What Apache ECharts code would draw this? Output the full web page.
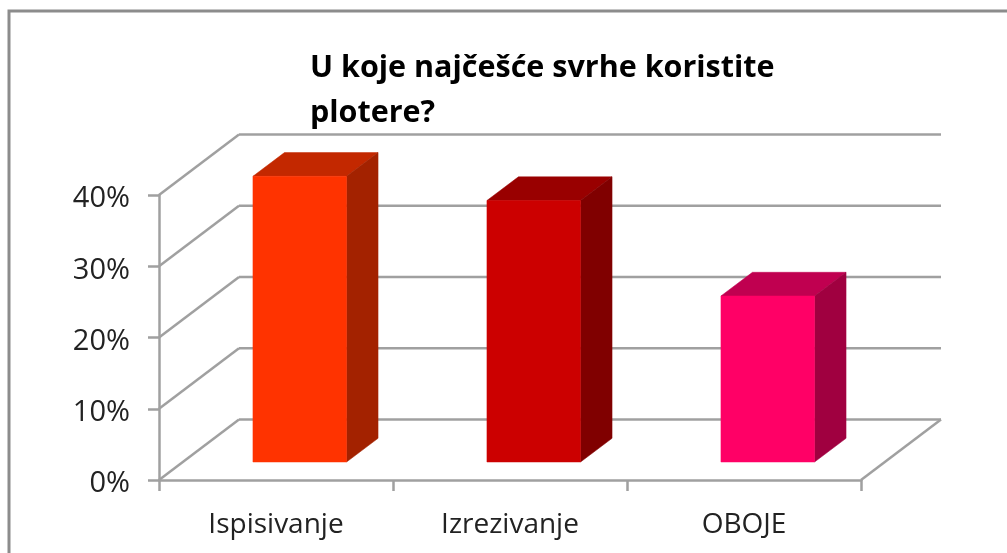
<!DOCTYPE html>
<html>
<head>
<meta charset="utf-8">
<style>html,body{margin:0;padding:0;background:#fff}#c{width:1007px;height:553px}</style>
<script src="https://cdn.jsdelivr.net/npm/echarts@6/dist/echarts.min.js"></script>
</head>
<body>
<div id="c"></div>
<script>
const categories = ['Ispisivanje', 'Izrezivanje', 'OBOJE'];
const values = [40.1, 36.7, 23.3];
const yTicks = [0, 10, 20, 30, 40];
const frontColors = ['#FF3300', '#CC0000', '#FF0066'];
const topColors = ['#C32800', '#990000', '#C00050'];
const sideColors = ['#A32200', '#800000', '#A00040'];
const titleText = 'U koje najčešće svrhe koristite\nplotere?';

const WALL_DX = 80, WALL_DY = -60.5, BAR_DX = 31.5, BAR_DY = -23.7;
const BASE_DX = 23.75, BASE_DY = -18;
const LINE = '#A0A0A0';
const lineStyle = { stroke: LINE, lineWidth: 2.5, fill: null };

const chart = echarts.init(document.getElementById('c'), null, { renderer: 'canvas' });
chart.setOption({
  animation: false,
  backgroundColor: '#fff',
  textStyle: { fontFamily: 'Open Sans' },
  title: {
    text: titleText, left: 305, top: 41,
    textStyle: { fontFamily: 'Open Sans', fontWeight: 'bold', fontSize: 30.5, lineHeight: 45, color: '#000' }
  },
  grid: { left: 159, right: 146, top: 195, bottom: 73, containLabel: false },
  xAxis: {
    type: 'category', data: categories,
    axisLine: { lineStyle: { color: LINE, width: 2.5 } },
    axisTick: { show: true, length: 11, lineStyle: { color: LINE, width: 2.5 } },
    axisLabel: { fontSize: 28, color: '#222', margin: 31, fontFamily: 'Open Sans' }
  },
  yAxis: {
    type: 'value', min: 0, max: 40, interval: 10,
    axisLine: { show: true, lineStyle: { color: LINE, width: 2.5 } },
    axisTick: { show: true, length: 11, lineStyle: { color: LINE, width: 2.5 } },
    splitLine: { show: false },
    axisLabel: { formatter: '{value}%', fontSize: 29, color: '#222', margin: 29, verticalAlign: 'top', lineHeight: 8, fontFamily: 'Open Sans' }
  },
  series: [
    {
      type: 'custom', coordinateSystem: 'cartesian2d', silent: true, z: 1,
      data: yTicks.map(v => [0, v]),
      renderItem(params, api) {
        const v = api.value(1);
        const size = api.size([1, 0]);
        const p = api.coord([0, v]);
        const x0 = p[0] - size[0] / 2, y0 = p[1];
        const xEnd = x0 + size[0] * categories.length;
        const bx = x0 + WALL_DX, by = y0 + WALL_DY, bxEnd = xEnd + WALL_DX;
        const children = [
          { type: 'line', shape: { x1: x0, y1: y0, x2: bx, y2: by }, style: lineStyle },
          { type: 'line', shape: { x1: bx, y1: by, x2: bxEnd, y2: by }, style: lineStyle }
        ];
        if (v === 0) children.push({ type: 'line', shape: { x1: xEnd, y1: y0, x2: bxEnd, y2: by }, style: lineStyle });
        return { type: 'group', children };
      }
    },
    {
      type: 'custom', coordinateSystem: 'cartesian2d', silent: true, z: 3,
      data: values.map((v, i) => [i, v]),
      renderItem(params, api) {
        const i = api.value(0);
        const top = api.coord([i, api.value(1)]);
        const base = api.coord([i, 0]);
        const w = api.size([1, 0])[0] * 0.4;
        const xl = top[0] - w / 2 + BASE_DX, xr = xl + w;
        const yb = base[1] + BASE_DY, yt = top[1] + BASE_DY;
        const poly = (pts, fill) => ({ type: 'polygon', shape: { points: pts }, style: { fill, stroke: fill, lineWidth: 0.5 } });
        return {
          type: 'group',
          children: [
            poly([[xl, yt], [xl + BAR_DX, yt + BAR_DY], [xr + BAR_DX, yt + BAR_DY], [xr, yt]], topColors[i]),
            poly([[xr, yb], [xr + BAR_DX, yb + BAR_DY], [xr + BAR_DX, yt + BAR_DY], [xr, yt]], sideColors[i]),
            poly([[xl, yb], [xr, yb], [xr, yt], [xl, yt]], frontColors[i])
          ]
        };
      }
    }
  ],
  graphic: [{
    type: 'rect', silent: true, z: 100,
    shape: { x: 9, y: 11, width: 1200, height: 1000 },
    style: { fill: null, stroke: '#8C8C8C', lineWidth: 3 }
  }]
});
</script>
</body>
</html>
